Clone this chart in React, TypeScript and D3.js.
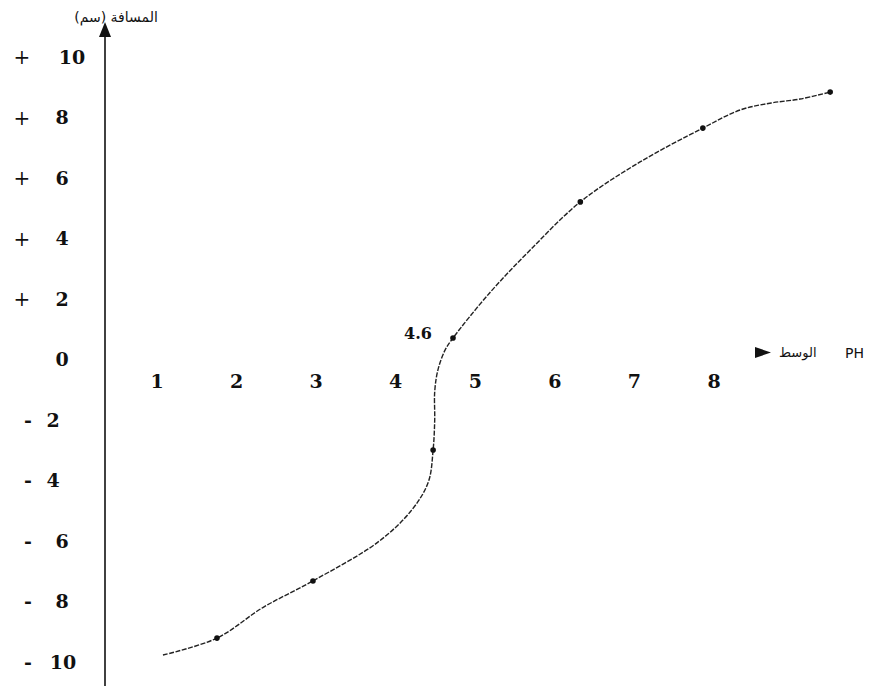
import React from "react";
import * as d3 from "d3";

const xTicks = [1, 2, 3, 4, 5, 6, 7, 8];
const yTicks = [10, 8, 6, 4, 2, 0, -2, -4, -6, -8, -10];
const curvePH = [1.075, 1.754, 2.33, 2.96, 3.78, 4.2, 4.41, 4.47, 4.49, 4.49, 4.53, 4.62, 4.72, 5.18, 5.69, 6.32, 7.07, 7.86, 8.33, 8.72, 9.08, 9.46];
const curveDist = [-9.77, -9.21, -8.2, -7.32, -6.03, -4.98, -4.05, -2.99, -2.0, -1.07, -0.35, 0.31, 0.71, 2.2, 3.62, 5.21, 6.53, 7.65, 8.25, 8.48, 8.61, 8.84];
const markerPH = [1.754, 2.96, 4.47, 4.72, 6.32, 7.86, 9.46];
const markerDist = [-9.21, -7.32, -2.99, 0.71, 5.21, 7.65, 8.84];
const isoLabel = "4.6";
const yTitle = "المسافة (سم)";
const xTitleAr = "الوسط";
const xTitleEn = "PH";

export default function App() {
  const x = d3.scaleLinear().domain([1, 8]).range([157, 714]);
  const y = d3.scaleLinear().domain([-10, 10]).range([662, 57]);
  const pts: [number, number][] = curvePH.map((p, i) => [x(p), y(curveDist[i])]);
  const line = d3.line().curve(d3.curveCatmullRom.alpha(0.5))(pts) || "";
  const axisX = 105;
  const serif = "'DejaVu Serif', 'Liberation Serif', serif";
  const arab = "'DejaVu Sans', sans-serif";
  return (
    <svg width={885} height={686} style={{ position: "absolute", left: 0, top: 0, background: "#fff" }}>
      <rect width={885} height={686} fill="#fff" />
      {/* y axis */}
      <line x1={axisX} x2={axisX} y1={686} y2={30} stroke="#111" strokeWidth={1.6} />
      <path d={`M${axisX},22 L${axisX - 6},37 L${axisX + 6},37 Z`} fill="#111" />
      <text x={116} y={22} fontFamily={arab} fontSize={14} textAnchor="middle" direction="rtl" fill="#111">{yTitle}</text>
      {/* y tick labels */}
      {yTicks.map((t) => (
        <g key={t}>
          {t !== 0 && (
            <text x={t > 0 ? 22 : 28} y={y(t)} dy="0.35em" textAnchor="middle" fontFamily={serif} fontSize={t > 0 ? 20 : 19} fontWeight={t > 0 ? "normal" : "bold"} fill="#111">
              {t > 0 ? "+" : "-"}
            </text>
          )}
          <text x={t === 10 ? 72 : t === -10 ? 63 : (t < 0 && t > -5 ? 53 : 62)} y={y(t)} dy="0.36em" textAnchor="middle" fontFamily={serif} fontSize={19} fontWeight="bold" fill="#111">
            {Math.abs(t)}
          </text>
        </g>
      ))}
      {/* x tick labels */}
      {xTicks.map((t) => (
        <text key={t} x={x(t)} y={381} dy="0.36em" textAnchor="middle" fontFamily={serif} fontSize={19} fontWeight="bold" fill="#111">
          {t}
        </text>
      ))}
      {/* x title */}
      <path d="M755,347 L771,352.5 L755,358 Z" fill="#111" />
      <text x={779} y={357} fontFamily={arab} fontSize={13} fill="#111">{xTitleAr}</text>
      <text x={845} y={358} fontFamily={arab} fontSize={14} fill="#111">{xTitleEn}</text>
      {/* curve */}
      <path d={line} fill="none" stroke="#222" strokeWidth={1.4} strokeDasharray="5 1.5" />
      {markerPH.map((p, i) => (
        <circle key={i} cx={x(p)} cy={y(markerDist[i])} r={2.8} fill="#111" />
      ))}
      <text x={418} y={339} textAnchor="middle" fontFamily={serif} fontSize={16} fontWeight="bold" fill="#111">{isoLabel}</text>
    </svg>
  );
}
